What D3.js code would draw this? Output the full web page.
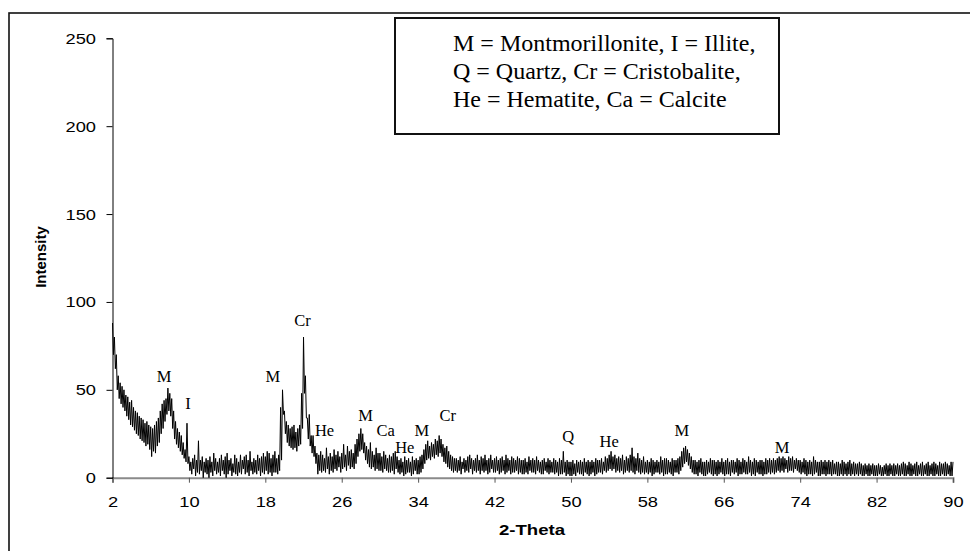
<!DOCTYPE html>
<html>
<head>
<meta charset="utf-8">
<script src="https://cdn.jsdelivr.net/npm/d3@7"></script>
<style>
  body { margin: 0; background: #fff; }
  svg { display: block; }
  .tick text { font-family: "Liberation Sans", Arial, sans-serif; font-size: 15.5px; fill: #000; }
</style>
</head>
<body>
<svg id="chart" width="970" height="551"></svg>
<script>
// 2-Theta bins: 2 to 90 every 0.2 degree
const thetaStart = 2
const thetaStep = 0.2

// highs and lows of the noisy scan in each bin, one row per degree (x.0 x.2 x.4 x.6 x.8)
const upper = [
  88, 80, 70, 58, 54,   // 2
  52, 50, 47, 46, 43,   // 3
  44, 40, 38, 37, 35,   // 4
  34, 33, 31, 32, 30,   // 5
  29, 28, 30, 32, 34,   // 6
  38, 42, 44, 45, 51,   // 7
  48, 45, 38, 32, 28,   // 8
  26, 24, 20, 16, 31,   // 9
  12, 9, 11, 13, 10,    // 10
  21, 10, 12, 9, 11,    // 11
  10, 12, 9, 14, 11,    // 12
  9, 11, 13, 10, 12,    // 13
  14, 10, 11, 8, 13,    // 14
  11, 9, 13, 10, 12,    // 15
  13, 10, 15, 9, 11,    // 16
  10, 13, 11, 12, 14,   // 17
  12, 15, 14, 11, 13,   // 18
  15, 11, 13, 40, 50,   // 19
  38, 32, 30, 28, 29,   // 20
  30, 26, 28, 30, 48,   // 21
  80, 58, 34, 36, 24,   // 22
  24, 18, 14, 13, 15,   // 23
  13, 11, 17, 12, 14,   // 24
  12, 16, 13, 15, 12,   // 25
  14, 19, 13, 18, 15,   // 26
  16, 14, 19, 22, 25,   // 27
  28, 25, 20, 18, 16,   // 28
  20, 15, 13, 17, 14,   // 29
  14, 12, 15, 13, 11,   // 30
  13, 12, 14, 15, 12,   // 31
  10, 11, 9, 12, 10,    // 32
  11, 9, 12, 10, 11,    // 33
  10, 12, 13, 16, 19,   // 34
  21, 18, 20, 19, 22,   // 35
  21, 24, 22, 19, 17,   // 36
  18, 15, 13, 12, 11,   // 37
  11, 10, 12, 9, 11,    // 38
  10, 12, 13, 11, 10,   // 39
  11, 13, 10, 12, 11,   // 40
  13, 10, 11, 13, 10,   // 41
  11, 12, 10, 11, 12,   // 42
  10, 13, 11, 10, 12,   // 43
  11, 10, 12, 11, 10,   // 44
  10, 11, 9, 12, 10,    // 45
  11, 10, 12, 10, 9,    // 46
  10, 11, 9, 11, 10,    // 47
  9, 11, 10, 9, 11,     // 48
  10, 15, 9, 10, 9,     // 49
  9, 10, 8, 10, 9,      // 50
  10, 9, 11, 9, 10,     // 51
  9, 10, 9, 11, 10,     // 52
  10, 11, 9, 12, 11,    // 53
  13, 15, 12, 13, 11,   // 54
  12, 11, 13, 10, 12,   // 55
  11, 13, 17, 12, 11,   // 56
  14, 11, 10, 12, 9,    // 57
  10, 9, 11, 10, 9,     // 58
  10, 9, 12, 10, 11,    // 59
  11, 10, 9, 11, 10,    // 60
  10, 11, 12, 15, 17,   // 61
  18, 16, 14, 12, 10,   // 62
  10, 9, 10, 11, 9,     // 63
  9, 10, 9, 11, 10,     // 64
  10, 9, 10, 9, 11,     // 65
  9, 10, 11, 9, 10,     // 66
  10, 9, 11, 10, 9,     // 67
  11, 10, 9, 12, 10,    // 68
  9, 11, 10, 9, 10,     // 69
  10, 9, 11, 10, 11,    // 70
  10, 11, 10, 11, 12,   // 71
  11, 12, 11, 10, 12,   // 72
  11, 12, 10, 11, 10,   // 73
  10, 9, 11, 10, 9,     // 74
  10, 9, 12, 10, 9,     // 75
  9, 10, 9, 10, 9,      // 76
  10, 9, 10, 8, 9,      // 77
  9, 8, 10, 9, 8,       // 78
  9, 10, 8, 9, 8,       // 79
  8, 9, 8, 7, 8,        // 80
  7, 8, 7, 8, 7,        // 81
  7, 8, 7, 6, 7,        // 82
  8, 7, 8, 7, 8,        // 83
  7, 8, 7, 8, 9,        // 84
  8, 7, 9, 8, 7,        // 85
  8, 9, 7, 8, 9,        // 86
  7, 8, 9, 7, 8,        // 87
  9, 8, 7, 9, 8,        // 88
  8, 9, 8, 7, 9,        // 89
  9                     // 90
]

const lower = [
  70, 62, 50, 45, 42,   // 2
  40, 38, 35, 33, 30,   // 3
  29, 27, 25, 24, 22,   // 4
  21, 20, 18, 19, 16,   // 5
  12, 15, 14, 18, 20,   // 6
  25, 28, 32, 36, 38,   // 7
  35, 28, 22, 19, 17,   // 8
  15, 13, 11, 9, 8,     // 9
  4, 2, 5, 1, 3,        // 10
  2, 4, 0, 3, 2,        // 11
  0, 3, 1, 4, 2,        // 12
  3, 1, 4, 2, 0,        // 13
  2, 4, 1, 3, 2,        // 14
  1, 3, 2, 5, 2,        // 15
  3, 1, 4, 2, 3,        // 16
  2, 4, 1, 3, 2,        // 17
  4, 2, 3, 1, 3,        // 18
  3, 2, 4, 10, 36,      // 19
  25, 20, 18, 17, 16,   // 20
  17, 15, 18, 19, 28,   // 21
  48, 34, 22, 18, 14,   // 22
  12, 8, 2, 4, 3,       // 23
  4, 3, 5, 2, 4,        // 24
  3, 5, 4, 6, 3,        // 25
  5, 6, 4, 7, 5,        // 26
  6, 5, 8, 12, 15,      // 27
  16, 14, 10, 8, 6,     // 28
  5, 6, 4, 5, 4,        // 29
  4, 3, 5, 4, 3,        // 30
  3, 4, 2, 5, 3,        // 31
  2, 3, 1, 2, 3,        // 32
  3, 1, 2, 4, 2,        // 33
  2, 3, 5, 8, 10,       // 34
  11, 10, 12, 11, 13,   // 35
  12, 14, 12, 9, 8,     // 36
  6, 5, 4, 3, 4,        // 37
  3, 4, 2, 5, 3,        // 38
  4, 3, 5, 2, 4,        // 39
  3, 4, 2, 4, 3,        // 40
  4, 2, 3, 5, 3,        // 41
  3, 4, 2, 3, 4,        // 42
  2, 3, 4, 2, 3,        // 43
  3, 4, 2, 3, 2,        // 44
  2, 3, 2, 4, 3,        // 45
  3, 2, 4, 3, 2,        // 46
  2, 4, 3, 2, 3,        // 47
  3, 2, 3, 1, 2,        // 48
  2, 3, 1, 2, 1,        // 49
  1, 2, 1, 3, 2,        // 50
  2, 1, 3, 2, 1,        // 51
  2, 3, 1, 2, 3,        // 52
  3, 2, 4, 3, 4,        // 53
  5, 4, 5, 3, 4,        // 54
  3, 4, 2, 3, 4,        // 55
  3, 4, 3, 2, 4,        // 56
  3, 2, 3, 2, 3,        // 57
  2, 3, 1, 2, 3,        // 58
  3, 2, 3, 1, 2,        // 59
  2, 3, 2, 1, 3,        // 60
  3, 2, 4, 6, 8,        // 61
  9, 7, 5, 3, 2,        // 62
  2, 1, 3, 2, 1,        // 63
  1, 2, 3, 2, 1,        // 64
  2, 1, 2, 3, 2,        // 65
  1, 2, 2, 1, 3,        // 66
  2, 3, 1, 2, 2,        // 67
  3, 2, 2, 3, 1,        // 68
  2, 1, 3, 2, 2,        // 69
  1, 2, 2, 3, 2,        // 70
  3, 2, 3, 4, 3,        // 71
  4, 3, 5, 3, 4,        // 72
  4, 3, 5, 4, 3,        // 73
  2, 3, 2, 1, 2,        // 74
  2, 1, 2, 3, 1,        // 75
  1, 2, 2, 1, 2,        // 76
  2, 1, 2, 2, 1,        // 77
  1, 2, 1, 2, 1,        // 78
  2, 1, 2, 1, 2,        // 79
  1, 2, 1, 1, 2,        // 80
  1, 1, 2, 1, 1,        // 81
  1, 2, 1, 1, 2,        // 82
  1, 1, 2, 1, 1,        // 83
  2, 1, 1, 2, 1,        // 84
  1, 2, 1, 1, 2,        // 85
  1, 1, 2, 1, 1,        // 86
  2, 1, 1, 2, 1,        // 87
  1, 2, 1, 1, 2,        // 88
  1, 1, 2, 1, 1,        // 89
  2                     // 90
]

const xTicks = [2, 10, 18, 26, 34, 42, 50, 58, 66, 74, 82, 90]
const yTicks = [0, 50, 100, 150, 200, 250]

// phase labels: name, 2-theta, intensity where the label sits
const peakNames = ['M', 'I', 'M', 'Cr', 'He', 'M', 'Ca', 'He', 'M', 'Cr', 'Q', 'He', 'M', 'M']
const peakTheta = [7.4, 9.9, 18.8, 21.9, 24.2, 28.5, 30.6, 32.6, 34.4, 37.1, 49.7, 54.0, 61.6, 72.1]
const peakLevel = [54.6, 39, 54.6, 86.3, 23.7, 32.4, 23.7, 13.9, 23.7, 32.4, 20.5, 17.3, 23.9, 13.9]

const legendLines = [
  'M = Montmorillonite, I = Illite,',
  'Q = Quartz, Cr = Cristobalite,',
  'He = Hematite, Ca = Calcite'
]

const svg = d3.select('#chart')

// outer frame (runs off the right and bottom of the picture)
svg.append('rect')
  .attr('x', 9)
  .attr('y', 13)
  .attr('width', 1000)
  .attr('height', 600)
  .attr('fill', 'none')
  .attr('stroke', '#111')
  .attr('stroke-width', 1.6)

const xScale = d3.scaleLinear()
  .domain([2, 90])
  .range([112.5, 953])

const yScale = d3.scaleLinear()
  .domain([0, 250])
  .range([477.7, 38.3])

// high at the start of each bin, low half a bin later
const points = []
upper.forEach((hi, i) => {
  const t = thetaStart + i * thetaStep
  points.push([t, hi])
  if (i < upper.length - 1) points.push([t + thetaStep / 2, lower[i]])
})

const xAxis = d3.axisBottom(xScale)
  .tickValues(xTicks)
  .tickSize(5)
  .tickPadding(13)

const gx = svg.append('g')
  .attr('transform', 'translate(0,' + yScale(0) + ')')
  .call(xAxis)
gx.select('.domain').attr('stroke', '#8a8a8a').attr('stroke-width', 2)
gx.selectAll('.tick line').attr('stroke', '#555')
gx.selectAll('.tick text').attr('transform', 'scale(1.18,1)')

const yAxis = d3.axisLeft(yScale)
  .tickValues(yTicks)
  .tickSize(6)

const gy = svg.append('g')
  .attr('transform', 'translate(' + xScale(2) + ',0)')
  .call(yAxis)
gy.select('.domain').attr('stroke', '#000')
gy.selectAll('.tick line').attr('stroke', '#000')
gy.selectAll('.tick text')
  .attr('x', -14)
  .attr('transform', 'scale(1.18,1)')

svg.append('path')
  .datum(points)
  .attr('fill', 'none')
  .attr('stroke', '#000')
  .attr('stroke-width', 1)
  .attr('d', d3.line()
    .x((d) => xScale(d[0]))
    .y((d) => yScale(d[1])))

svg.append('g')
  .selectAll('text')
  .data(peakNames)
  .enter()
  .append('text')
  .attr('x', (d, i) => xScale(peakTheta[i]))
  .attr('y', (d, i) => yScale(peakLevel[i]))
  .attr('text-anchor', 'middle')
  .style('font-family', '"Liberation Serif", "Times New Roman", serif')
  .style('font-size', '16.5px')
  .text((d) => d)

svg.append('text')
  .attr('transform', 'translate(46,257) rotate(-90)')
  .attr('text-anchor', 'middle')
  .style('font-family', '"Liberation Sans", Arial, sans-serif')
  .style('font-size', '15px')
  .style('font-weight', 'bold')
  .text('Intensity')

svg.append('text')
  .attr('transform', 'translate(532,535) scale(1.2,1)')
  .attr('text-anchor', 'middle')
  .style('font-family', '"Liberation Sans", Arial, sans-serif')
  .style('font-size', '15.5px')
  .style('font-weight', 'bold')
  .text('2-Theta')

// legend box
svg.append('rect')
  .attr('x', 395)
  .attr('y', 18)
  .attr('width', 384)
  .attr('height', 116)
  .attr('fill', '#fff')
  .attr('stroke', '#111')
  .attr('stroke-width', 2)

svg.append('g')
  .selectAll('text')
  .data(legendLines)
  .enter()
  .append('text')
  .attr('x', 453)
  .attr('y', (d, i) => 51 + i * 28)
  .style('font-family', '"Liberation Serif", "Times New Roman", serif')
  .style('font-size', '24px')
  .text((d) => d)
</script>
</body>
</html>
